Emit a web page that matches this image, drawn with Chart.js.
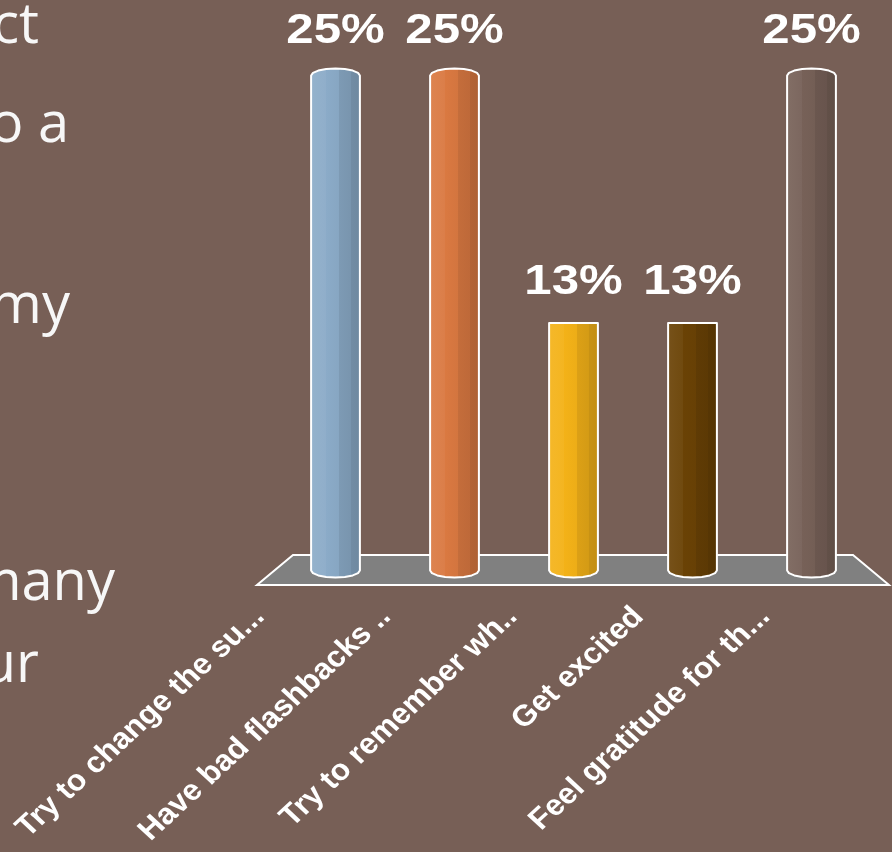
<!DOCTYPE html>
<html>
<head>
<meta charset="utf-8">
<title>Responses</title>
<script src="https://cdn.jsdelivr.net/npm/chart.js@4.4.1/dist/chart.umd.min.js"></script>
<style>
    html, body {
        margin: 0;
        padding: 0;
        background: #775F56;
    }
    #wrap {
        position: relative;
        width: 892px;
        height: 852px;
        overflow: hidden;
        background: #775F56;
    }
    #chart {
        position: absolute;
        left: 0;
        top: 0;
    }
    .side-text {
        position: absolute;
        font-family: 'Open Sans', sans-serif;
        font-size: 56px;
        line-height: 56px;
        color: #F7F7F7;
        white-space: nowrap;
    }
</style>
</head>
<body>
<div id="wrap">
    <canvas id="chart" width="892" height="852"></canvas>
    <div class="side-text" style="right: 853px; top: -7px;">ct</div>
    <div class="side-text" style="right: 823px; top: 92px;">o a</div>
    <div class="side-text" style="right: 822px; top: 273px;">my</div>
    <div class="side-text" style="right: 777px; top: 550px;">many</div>
    <div class="side-text" style="right: 853px; top: 632px;">ur</div>
</div>

<script>
// ============================================
// DATA
// ============================================
const categories = [
    'Try to change the su...',
    'Have bad flashbacks ..',
    'Try to remember wh..',
    'Get excited',
    'Feel gratitude for th...'
];
const percentages = [25, 25, 12.5, 12.5, 25];

// Bar colours (one per category)
const barColors = ['#8BABC8', '#DA7941', '#F4B218', '#6A4205', '#776158'];

const FLOOR_COLOR = '#808080';
const OUTLINE = '#FFFFFF';

// ============================================
// HELPERS
// ============================================
function shade(hex, amt) {
    // amt > 0 lightens towards white, amt < 0 darkens towards black
    const n = parseInt(hex.slice(1), 16);
    let r = (n >> 16) & 255, g = (n >> 8) & 255, b = n & 255;
    const t = amt < 0 ? 0 : 255;
    const p = Math.abs(amt);
    r = Math.round(r + (t - r) * p);
    g = Math.round(g + (t - g) * p);
    b = Math.round(b + (t - b) * p);
    return `rgb(${r}, ${g}, ${b})`;
}

// half an ellipse as a faceted polyline, left to right
function capPoints(cx, r, yc, e, dir) {
    const pts = [];
    const steps = 8;
    for (let k = 0; k <= steps; k++) {
        const a = Math.PI * k / steps;
        pts.push([cx - r * Math.cos(a), yc + dir * e * Math.sin(a)]);
    }
    return pts;
}

function drawCylinder(ctx, bar, color, eyeY) {
    const r = bar.width / 2;
    const cx = bar.x;
    const top = bar.y;
    const base = bar.base;
    const eTop = Math.abs(eyeY - top) * 0.014;
    const eBot = Math.abs(base - eyeY) * 0.014;

    const topArc = capPoints(cx, r, top + eTop, eTop * 2, -1);
    const botArc = capPoints(cx, r, base - eBot, eBot * 2, 1);

    ctx.beginPath();
    ctx.moveTo(cx - r, top + eTop);
    ctx.lineTo(cx - r, base - eBot);
    botArc.forEach(p => ctx.lineTo(p[0], p[1]));
    ctx.lineTo(cx + r, top + eTop);
    for (let i = topArc.length - 1; i >= 0; i--) {
        ctx.lineTo(topArc[i][0], topArc[i][1]);
    }
    ctx.closePath();

    // vertical facets, lighter on the left
    const grad = ctx.createLinearGradient(cx - r, 0, cx + r, 0);
    grad.addColorStop(0, shade(color, 0.08));
    grad.addColorStop(0.3, shade(color, 0.04));
    grad.addColorStop(0.3, color);
    grad.addColorStop(0.58, shade(color, -0.03));
    grad.addColorStop(0.58, shade(color, -0.1));
    grad.addColorStop(0.82, shade(color, -0.13));
    grad.addColorStop(0.82, shade(color, -0.18));
    grad.addColorStop(1, shade(color, -0.2));
    ctx.fillStyle = grad;
    ctx.fill();

    ctx.lineWidth = 2;
    ctx.lineJoin = 'round';
    ctx.strokeStyle = OUTLINE;
    ctx.stroke();
}

// ============================================
// PLUGIN: floor, cylinders, labels
// ============================================
const cylinderPlugin = {
    id: 'cylinders',
    beforeDatasetsDraw(chart) {
        const { ctx, chartArea } = chart;
        const { left, right, bottom } = chartArea;
        ctx.save();
        ctx.beginPath();
        ctx.moveTo(left + 17, bottom - 19);
        ctx.lineTo(right - 18, bottom - 19);
        ctx.lineTo(right + 18, bottom + 11);
        ctx.lineTo(left - 19, bottom + 11);
        ctx.closePath();
        ctx.fillStyle = FLOOR_COLOR;
        ctx.fill();
        ctx.lineWidth = 2;
        ctx.strokeStyle = OUTLINE;
        ctx.stroke();
        ctx.restore();
    },
    afterDatasetsDraw(chart) {
        const { ctx, chartArea } = chart;
        const meta = chart.getDatasetMeta(0);
        const eyeY = (chartArea.top + chartArea.bottom) / 2;
        const midX = (chartArea.left + chartArea.right) / 2;

        ctx.save();
        meta.data.forEach((bar, i) => {
            drawCylinder(ctx, bar, barColors[i], eyeY);
        });

        // value labels above each bar
        ctx.fillStyle = '#FFFFFF';
        ctx.font = 'bold 42px "Liberation Sans", Arial, sans-serif';
        ctx.textAlign = 'center';
        ctx.textBaseline = 'alphabetic';
        meta.data.forEach((bar, i) => {
            ctx.save();
            ctx.translate(bar.x, bar.y - 29);
            ctx.scale(1.17, 1);
            ctx.fillText(Math.round(percentages[i]) + '%', 0, 0);
            ctx.restore();
        });

        // category labels, slanted in front of the floor
        ctx.font = 'bold 29.5px "Liberation Sans", Arial, sans-serif';
        ctx.textAlign = 'right';
        meta.data.forEach((bar, i) => {
            const ax = midX + (bar.x - midX) * 1.062 - 55;
            const ay = chartArea.bottom + 44;
            ctx.save();
            ctx.translate(ax, ay);
            ctx.scale(1.08, 1);
            ctx.rotate(-Math.PI / 4);
            ctx.fillText(categories[i], 0, 0);
            ctx.restore();
        });
        ctx.restore();
    }
};

// ============================================
// CHART
// ============================================
const canvas = document.getElementById('chart');
const chart = new Chart(canvas.getContext('2d'), {
    type: 'bar',
    data: {
        labels: categories,
        datasets: [{
            data: percentages,
            backgroundColor: 'rgba(0, 0, 0, 0)',
            borderWidth: 0,
            categoryPercentage: 1,
            barPercentage: 0.41
        }]
    },
    options: {
        responsive: false,
        animation: false,
        layout: {
            padding: { left: 276, right: 21, top: 72, bottom: 278 }
        },
        plugins: {
            legend: { display: false },
            tooltip: { enabled: false }
        },
        scales: {
            x: { display: false },
            y: { display: false, min: 0, max: 25 }
        }
    },
    plugins: [cylinderPlugin]
});
</script>
</body>
</html>
